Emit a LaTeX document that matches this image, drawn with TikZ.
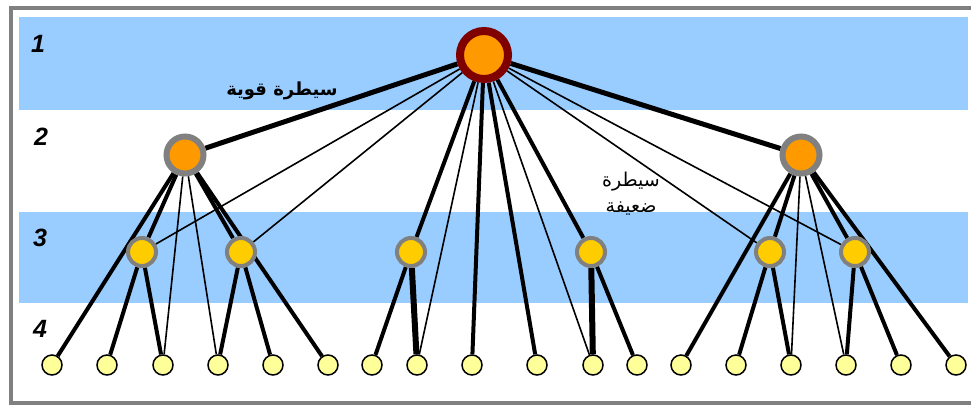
\documentclass[tikz,border=0pt]{standalone}
\usepackage{fontspec}
\setmainfont{Liberation Sans}
\newfontfamily\arabicfont[Script=Arabic]{DejaVu Sans}
\TeXXeTstate=1

\definecolor{bandblue}{HTML}{99CCFF}
\definecolor{framegray}{HTML}{808080}
\definecolor{rootred}{HTML}{800000}
\definecolor{rootorange}{HTML}{FF9900}
\definecolor{midgold}{HTML}{FFCC00}
\definecolor{leafyellow}{HTML}{FFFF99}

\pgfdeclarelayer{bands}
\pgfdeclarelayer{edges}
\pgfsetlayers{bands,edges,main}

\begin{document}
\begin{tikzpicture}[x=1pt, y=-1pt,
    root/.style = {circle, draw=rootred, line width=8pt, fill=rootorange, minimum size=48pt, inner sep=0pt},
    boss/.style = {circle, draw=framegray, line width=6pt, fill=rootorange, minimum size=37pt, inner sep=0pt},
    chief/.style = {circle, draw=framegray, line width=4pt, fill=midgold, minimum size=28pt, inner sep=0pt},
    leaf/.style = {circle, draw=black, line width=1.5pt, fill=leafyellow, minimum size=20pt, inner sep=0pt},
    lvl/.style = {font=\fontsize{25}{25}\selectfont\bfseries\itshape},
    strong/.style = {line width=4pt},
    weak/.style = {line width=1.6pt},
    heavy/.style = {line width=6pt}]
    \useasboundingbox (0,0) rectangle (971,405);
    \begin{pgfonlayer}{bands}
    \fill[white] (0,0) rectangle (971,405);
    \fill[bandblue] (19,17) rectangle (968,110);
    \fill[bandblue] (19,212) rectangle (968,303);
    \draw[framegray, line width=4pt] (10.5,7.5) rectangle (978,402.5);
    \end{pgfonlayer}
    \node[lvl] (n1) at (38,44) {1};
    \node[lvl] (n2) at (41,137) {2};
    \node[lvl] (n3) at (40,238) {3};
    \node[lvl] (n4) at (40,329) {4};
    % level 1 and 2
    \node[root] (T) at (484,55) {};
    \node[boss] (A) at (185,155) {};
    \node[boss] (B) at (801,155) {};
    % level 3
    \node[chief] (C1) at (142,252) {};
    \node[chief] (C2) at (241,252) {};
    \node[chief] (C3) at (411,252) {};
    \node[chief] (C4) at (591,252) {};
    \node[chief] (C5) at (770,252) {};
    \node[chief] (C6) at (855,252) {};
    % level 4
    \node[leaf] (L1) at (52,365) {};
    \node[leaf] (L2) at (107,365) {};
    \node[leaf] (L3) at (163,365) {};
    \node[leaf] (L4) at (218,365) {};
    \node[leaf] (L5) at (273,365) {};
    \node[leaf] (L6) at (328,365) {};
    \node[leaf] (L7) at (372,365) {};
    \node[leaf] (L8) at (417,365) {};
    \node[leaf] (L9) at (472,365) {};
    \node[leaf] (L10) at (537,365) {};
    \node[leaf] (L11) at (593,365) {};
    \node[leaf] (L12) at (637,365) {};
    \node[leaf] (L13) at (681,365) {};
    \node[leaf] (L14) at (736,365) {};
    \node[leaf] (L15) at (791,365) {};
    \node[leaf] (L16) at (846,365) {};
    \node[leaf] (L17) at (901,365) {};
    \node[leaf] (L18) at (956,365) {};
    \node[font=\arabicfont\fontsize{18}{20}\selectfont\bfseries] (strongtxt) at (282,91) {\beginR سيطرة قوية\endR};
    \node[font=\arabicfont\fontsize{19}{26}\selectfont, align=center] (weaktxt) at (631,194) {\beginR سيطرة\endR\\ \beginR ضعيفة\endR};
    \begin{pgfonlayer}{edges}
    \draw[line width=5pt] (T) -- (A);
    \draw[line width=5pt] (T) -- (B);
    \draw[weak] (T) -- (C1);
    \draw[weak] (T) -- (C2);
    \draw[weak] (T) -- (C5);
    \draw[weak] (T) -- (C6);
    \draw[strong] (T) -- (C3);
    \draw[strong] (T) -- (C4);
    \draw[weak] (T) -- (L8);
    \draw[strong] (T) -- (L9);
    \draw[strong] (T) -- (L10);
    \draw[weak] (T) -- (L11);
    % left branch
    \draw[strong] (A) -- (L1);
    \draw[strong] (A) -- (C1);
    \draw[strong] (A) -- (C2);
    \draw[weak] (A) -- (L3);
    \draw[weak] (A) -- (L4);
    \draw[strong] (A) -- (L6);
    \draw[strong] (C1) -- (L2);
    \draw[strong] (C1) -- (L3);
    \draw[strong] (C2) -- (L4);
    \draw[strong] (C2) -- (L5);
    % middle
    \draw[strong] (C3) -- (L7);
    \draw[heavy] (C3) -- (L8);
    \draw[heavy] (C4) -- (L11);
    \draw[strong] (C4) -- (L12);
    % right branch
    \draw[strong] (B) -- (L13);
    \draw[strong] (B) -- (C5);
    \draw[strong] (B) -- (C6);
    \draw[weak] (B) -- (L15);
    \draw[weak] (B) -- (L16);
    \draw[strong] (B) -- (L18);
    \draw[strong] (C5) -- (L14);
    \draw[strong] (C5) -- (L15);
    \draw[strong] (C6) -- (L16);
    \draw[strong] (C6) -- (L17);
    \end{pgfonlayer}
\end{tikzpicture}
\end{document}
